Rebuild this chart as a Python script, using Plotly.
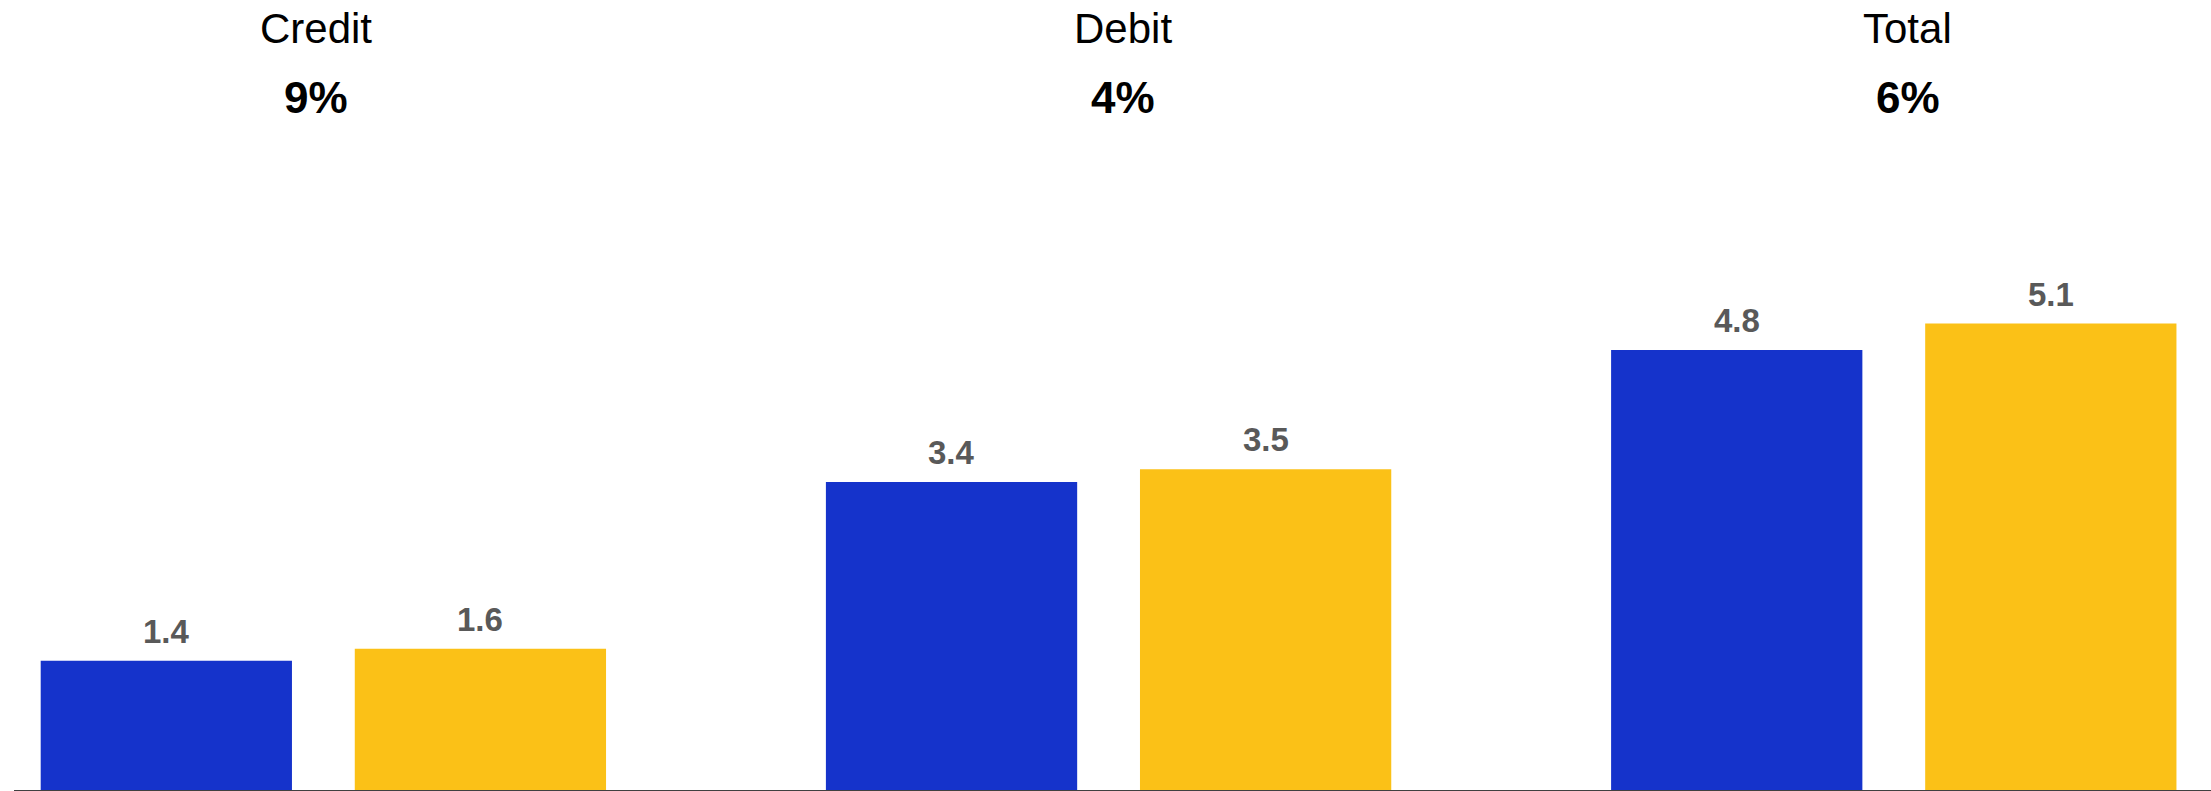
import plotly.graph_objects as go

categories = ["Credit", "Debit", "Total"]
growth_labels = ["9%", "4%", "6%"]
# bar heights
series_a = [1.41, 3.36, 4.80]
series_b = [1.54, 3.50, 5.09]
# value labels as printed above the bars
labels_a = ["1.4", "3.4", "4.8"]
labels_b = ["1.6", "3.5", "5.1"]

BLUE = "#1533CB"
YELLOW = "#FBC117"
LABEL = "#595959"
FONT = "Liberation Sans, Arial, sans-serif"
TITLE_XSHIFT = [-7, 14, 14]

xs = list(range(len(categories)))
W = 0.32

fig = go.Figure()
fig.add_trace(go.Bar(x=xs, y=series_a, width=W, offset=-0.36,
                     marker=dict(color=BLUE, line=dict(width=0)), showlegend=False, hoverinfo="y"))
fig.add_trace(go.Bar(x=xs, y=series_b, width=W, offset=0.04,
                     marker=dict(color=YELLOW, line=dict(width=0)), showlegend=False, hoverinfo="y"))

ann = []
for i, c in enumerate(categories):
    ann.append(dict(x=i, y=1, xref="x", yref="paper", text=c, showarrow=False,
                    yanchor="top", yshift=-3, xshift=TITLE_XSHIFT[i],
                    font=dict(family=FONT, size=42, color="#000000")))
    ann.append(dict(x=i, y=1, xref="x", yref="paper", text="<b>" + growth_labels[i] + "</b>",
                    showarrow=False, yanchor="top", yshift=-71, xshift=TITLE_XSHIFT[i],
                    font=dict(family=FONT, size=44, color="#000000")))
    ann.append(dict(x=i - 0.2, y=series_a[i], xref="x", yref="y", text="<b>" + labels_a[i] + "</b>",
                    showarrow=False, yanchor="bottom", yshift=9,
                    font=dict(family=FONT, size=33, color=LABEL)))
    ann.append(dict(x=i + 0.2, y=series_b[i], xref="x", yref="y", text="<b>" + labels_b[i] + "</b>",
                    showarrow=False, yanchor="bottom", yshift=9,
                    font=dict(family=FONT, size=33, color=LABEL)))

fig.update_layout(
    width=2211, height=791, autosize=False,
    margin=dict(l=14, r=0, t=0, b=1, pad=0),
    paper_bgcolor="white", plot_bgcolor="white",
    barmode="overlay",
    annotations=ann,
    xaxis=dict(range=[-0.394, 2.404], showticklabels=False, ticks="", showgrid=False,
               zeroline=False, showline=True, linecolor="#404040", linewidth=1.5),
    yaxis=dict(range=[0, 8.62], showticklabels=False, ticks="", showgrid=False,
               zeroline=False, showline=False),
)

fig.write_html("out.html", config={"displayModeBar": False},
               post_script="document.body.style.margin='0';document.body.style.overflow='hidden';")
